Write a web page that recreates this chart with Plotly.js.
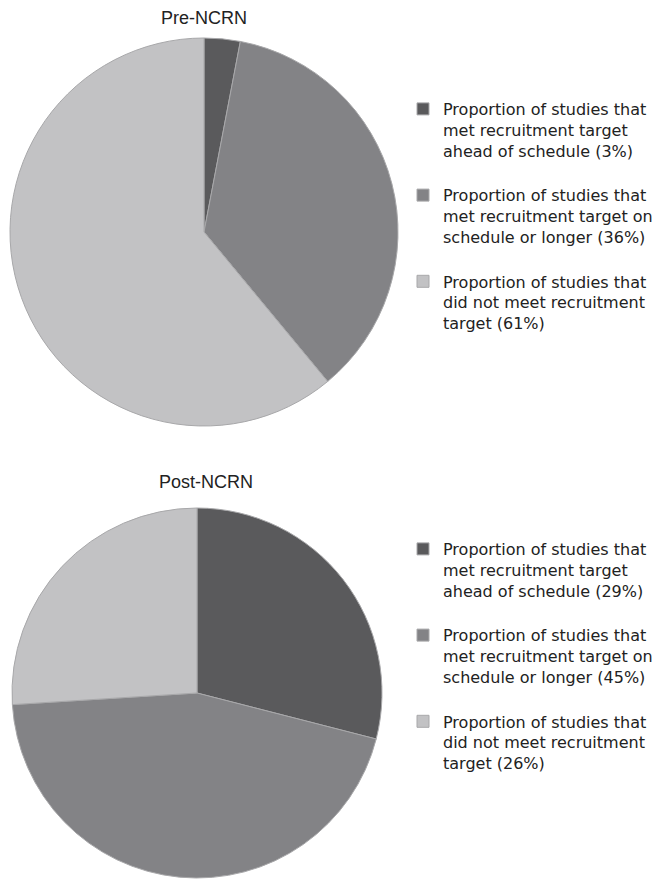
<!DOCTYPE html>
<html>
<head>
<meta charset="utf-8">
<script src="https://cdn.plot.ly/plotly-3.0.1.min.js"></script>
<style>html,body{margin:0;padding:0;background:#fff;}#chart{width:654px;height:879px;}</style>
</head>
<body>
<div id="chart"></div>
<script>
const preTitle = "Pre-NCRN";
const postTitle = "Post-NCRN";
const preLabels = [
  "Proportion of studies that<br>met recruitment target<br>ahead of schedule (3%)<br> ",
  "Proportion of studies that<br>met recruitment target on<br>schedule or longer (36%)<br> ",
  "Proportion of studies that<br>did not meet recruitment<br>target (61%)<br> "
];
const postLabels = [
  "Proportion of studies that<br>met recruitment target<br>ahead of schedule (29%)<br> ",
  "Proportion of studies that<br>met recruitment target on<br>schedule or longer (45%)<br> ",
  "Proportion of studies that<br>did not meet recruitment<br>target (26%)<br> "
];
const preValues = [3, 36, 61];
const postValues = [29, 45, 26];
const sliceColors = ["#5a5a5c", "#838386", "#c2c2c4"];

const W = 654, H = 879;
const fx = p => p / W;
const fy = p => 1 - p / H;

const common = {
  type: "pie",
  sort: false,
  direction: "clockwise",
  rotation: 0,
  textinfo: "none",
  hoverinfo: "label+percent",
  marker: {colors: sliceColors, line: {color: "#a8a8aa", width: 1}}
};

const traces = [
  Object.assign({}, common, {
    labels: preLabels, values: preValues, name: preTitle,
    domain: {x: [fx(10), fx(398)], y: [fy(426), fy(38)]},
    legend: "legend"
  }),
  Object.assign({}, common, {
    labels: postLabels, values: postValues, name: postTitle,
    domain: {x: [fx(12), fx(382)], y: [fy(878), fy(508)]},
    legend: "legend2"
  })
];

const legendFont = {family: "DejaVu Sans, sans-serif", size: 16, color: "#222"};
const layout = {
  width: W, height: H,
  margin: {l: 0, r: 0, t: 0, b: 0, autoexpand: false},
  paper_bgcolor: "#fff",
  showlegend: true,
  legend: {x: fx(403), y: fy(92), xanchor: "left", yanchor: "top", font: legendFont, valign: "top", bgcolor: "rgba(0,0,0,0)"},
  legend2: {x: fx(403), y: fy(532), xanchor: "left", yanchor: "top", font: legendFont, valign: "top", bgcolor: "rgba(0,0,0,0)"},
  annotations: [
    {text: preTitle, x: fx(204), y: fy(18), xref: "paper", yref: "paper", showarrow: false,
     xanchor: "center", yanchor: "middle", font: {family: "Liberation Sans, Arial, sans-serif", size: 18, color: "#222"}},
    {text: postTitle, x: fx(206), y: fy(482), xref: "paper", yref: "paper", showarrow: false,
     xanchor: "center", yanchor: "middle", font: {family: "Liberation Sans, Arial, sans-serif", size: 18, color: "#222"}}
  ]
};

Plotly.newPlot("chart", traces, layout, {displayModeBar: false, staticPlot: true});
</script>
</body>
</html>
